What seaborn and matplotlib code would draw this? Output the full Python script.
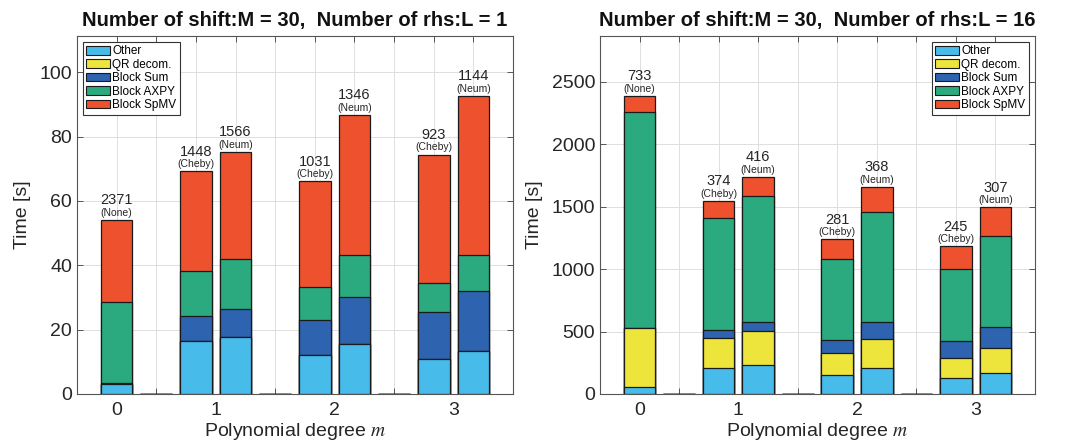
import numpy as np
import pandas as pd
import matplotlib
matplotlib.use("Agg")
import matplotlib.pyplot as plt
import seaborn as sns
from matplotlib.patches import Patch

# stacked parts, bottom to top
parts = ["Other", "QR decom.", "Block Sum", "Block AXPY", "Block SpMV"]
colors = ["#47BCEB", "#EDE53B", "#2E63B0", "#2AAA7E", "#EE512D"]

positions = [1, 3, 4, 6, 7, 9, 10]
empty_slots = [2, 5, 8]
methods = ["None", "Cheby", "Neum", "Cheby", "Neum", "Cheby", "Neum"]
degree_labels = ["0", "1", "2", "3"]
degree_pos = [1, 3.5, 6.5, 9.5]

# M = 30, L = 1  (time in s per part)
iters_l1 = [2371, 1448, 1566, 1031, 1346, 923, 1144]
other_l1 = [3.1, 16.4, 17.8, 12.0, 15.5, 10.9, 13.4]
qr_l1 = [0, 0, 0, 0, 0, 0, 0]
sum_l1 = [0.2, 7.8, 8.5, 10.9, 14.6, 14.7, 18.5]
axpy_l1 = [25.2, 14.0, 15.5, 10.3, 13.1, 9.0, 11.2]
spmv_l1 = [25.6, 31.0, 33.4, 32.9, 43.6, 39.8, 49.6]

# M = 30, L = 16
iters_l16 = [733, 374, 416, 281, 368, 245, 307]
other_l16 = [59, 206, 236, 153, 206, 131, 169]
qr_l16 = [469, 239, 265, 177, 233, 161, 198]
sum_l16 = [4, 70, 75, 99, 134, 129, 166]
axpy_l16 = [1724, 895, 1008, 651, 882, 578, 734]
spmv_l16 = [134, 139, 155, 158, 206, 183, 228]

plt.rcParams["font.family"] = ["Liberation Sans", "DejaVu Sans"]
plt.rcParams["mathtext.fontset"] = "stix"
text_col = "#262626"
edge_col = "#1a1a1a"


def draw(ax, segs, iters, title, legend_loc):
    cum = np.cumsum(np.array(segs, dtype=float), axis=0)
    # draw cumulative totals from the top layer down so each covers the one above
    for k in range(len(parts) - 1, -1, -1):
        df = pd.DataFrame({"pos": positions + empty_slots,
                           "t": list(cum[k]) + [0.0] * len(empty_slots)})
        sns.barplot(data=df, x="pos", y="t", native_scale=True, color=colors[k],
                    saturation=1, width=0.8, edgecolor=edge_col, linewidth=0.9,
                    errorbar=None, ax=ax)

    top = cum[-1]
    for x, h, n, m in zip(positions, top, iters, methods):
        ax.annotate(f"({m})", (x, h), xytext=(0, 1.5), textcoords="offset points",
                    ha="center", va="bottom", fontsize=7.5, color=text_col)
        ax.annotate(str(n), (x, h), xytext=(0, 9), textcoords="offset points",
                    ha="center", va="bottom", fontsize=10.5, color=text_col)

    ax.set_xlim(0, 11)
    ax.set_ylim(0, 1.2 * top.max())
    ax.xaxis.remove_overlapping_locs = False
    ax.set_xticks(np.arange(0, 12), [""] * 12)
    ax.set_xticks(degree_pos, degree_labels, minor=True)
    ax.tick_params(axis="x", which="minor", length=0, labelsize=14, colors=text_col, pad=6)
    ax.tick_params(axis="both", which="major", direction="in", length=4,
                   top=True, right=True, labelsize=14, colors=text_col, width=0.7)
    ax.tick_params(axis="both", which="major", color="#555555")
    ax.grid(True, which="major", color="#dedede", linewidth=0.7)
    ax.set_axisbelow(True)
    for s in ax.spines.values():
        s.set_color("#555555")
        s.set_linewidth(0.8)
    ax.set_xlabel("Polynomial degree $m$", fontsize=14, color=text_col, labelpad=1)
    ax.set_ylabel("Time [s]", fontsize=14, color=text_col, labelpad=6)
    ax.set_title(title, fontsize=14.5, fontweight="bold", color="#111111", pad=7,
                 family=["Liberation Sans Narrow", "DejaVu Sans Condensed", "Liberation Sans"])

    handles = [Patch(facecolor=c, edgecolor=edge_col, linewidth=0.8, label=p)
               for p, c in zip(parts, colors)]
    leg = ax.legend(handles=handles, loc=legend_loc, fontsize=8.5, frameon=True,
                    fancybox=False, edgecolor="#333333", framealpha=1,
                    handlelength=2.0, handleheight=0.75, labelspacing=0.12,
                    borderpad=0.3, handletextpad=0.2, borderaxespad=0.5)
    leg.get_frame().set_linewidth(0.8)


fig = plt.figure(figsize=(10.66, 4.47), dpi=100)
ax1 = fig.add_axes([77 / 1066, 53 / 447, 436 / 1066, 358 / 447])
ax2 = fig.add_axes([600 / 1066, 53 / 447, 435 / 1066, 358 / 447])

draw(ax1, [other_l1, qr_l1, sum_l1, axpy_l1, spmv_l1], iters_l1,
     "Number of shift:M = 30,  Number of rhs:L = 1", "upper left")
draw(ax2, [other_l16, qr_l16, sum_l16, axpy_l16, spmv_l16], iters_l16,
     "Number of shift:M = 30,  Number of rhs:L = 16", "upper right")
ax1.set_yticks(np.arange(0, 101, 20))
ax2.set_yticks(np.arange(0, 2501, 500))

fig.savefig("out.png", dpi=100)
